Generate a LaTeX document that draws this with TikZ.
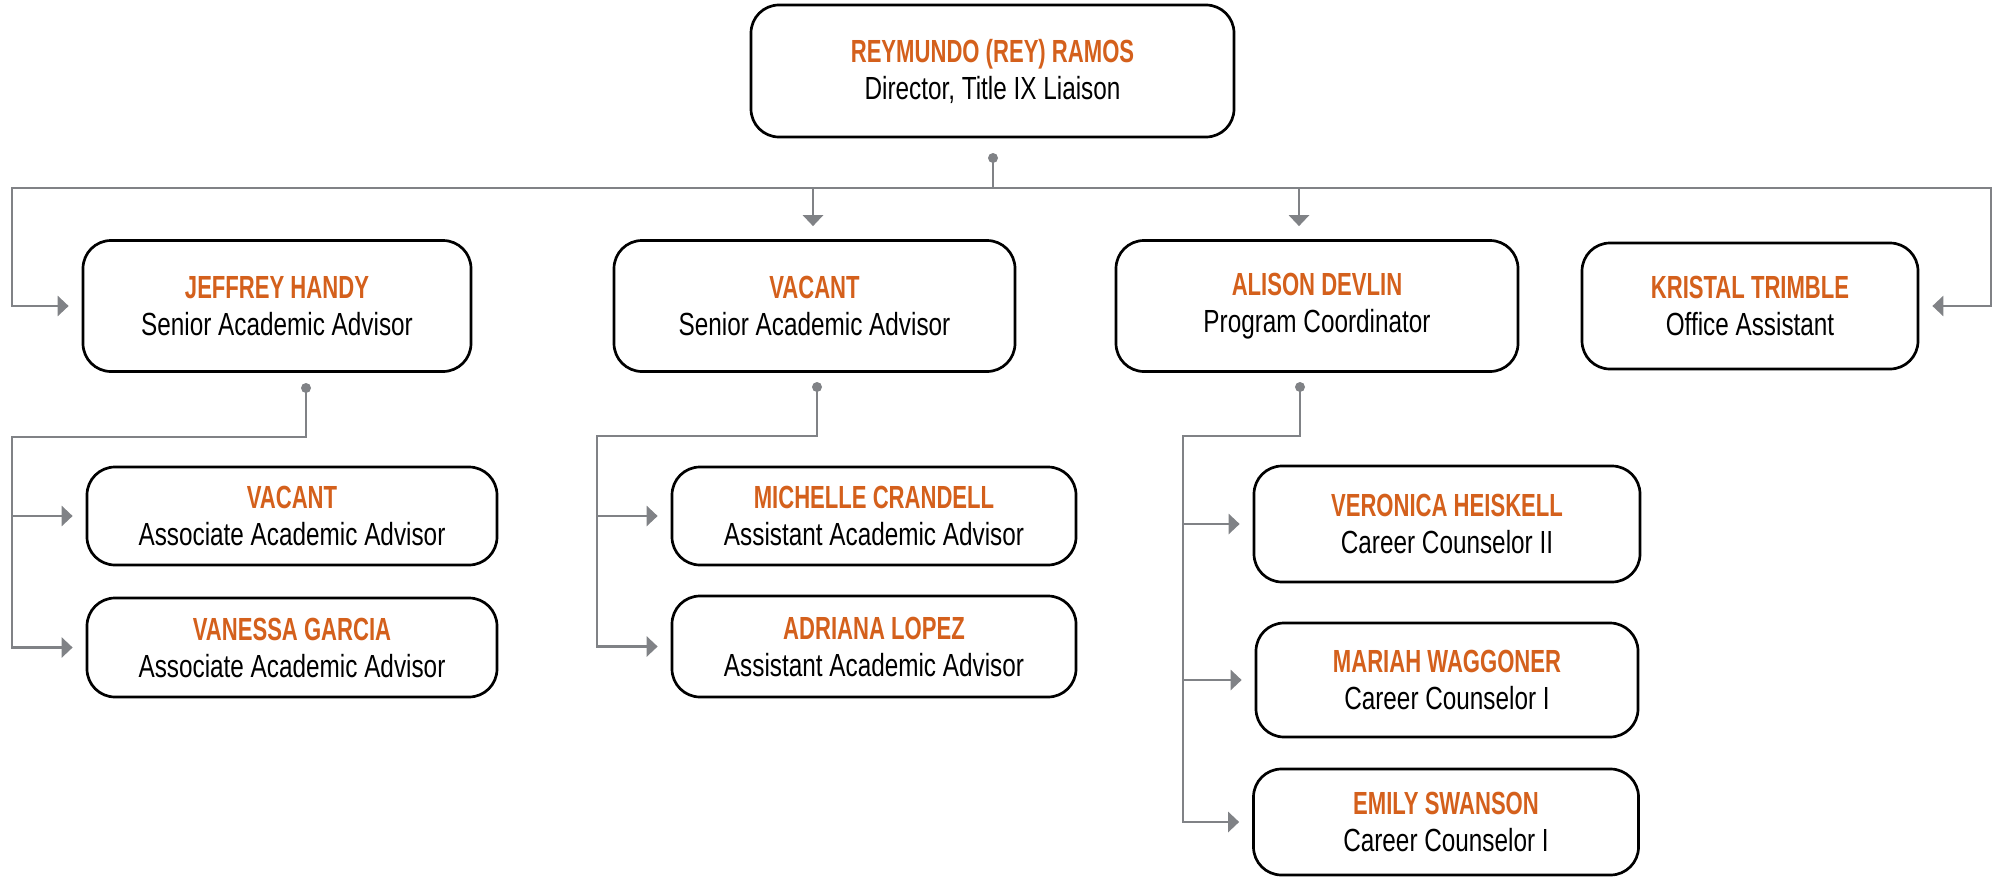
\documentclass[tikz,border=0pt]{standalone}
\usepackage{fontspec}
\setmainfont{Liberation Sans}[FakeStretch=0.76, BoldFeatures={FakeStretch=0.69}]
\usetikzlibrary{arrows.meta}
\definecolor{orng}{RGB}{212,96,28}
\definecolor{lgray}{RGB}{128,130,134}
\newcommand\orgname[1]{{\bfseries\color{orng}#1}}
\begin{document}
\begin{tikzpicture}[x=1bp,y=-1bp,
  box/.style={draw=black, line width=2.7bp, rounded corners=28bp, align=center,
    inner sep=0pt, fill=white, font=\fontsize{32bp}{37bp}\selectfont},
  conn/.style={draw=lgray, line width=2.7bp},
  arr/.style={conn, -{Triangle[length=11bp,width=20bp]}, shorten >=13bp},
  dotc/.style={circle, fill=lgray, inner sep=0pt, minimum size=10bp}]
\useasboundingbox (0,0) rectangle (1997,878);
% boxes
\node[box, minimum width=483bp, minimum height=132bp] (top) at (992.5,71)
  {\orgname{REYMUNDO (REY) RAMOS}\\Director, Title IX Liaison};
\node[box, minimum width=388bp, minimum height=131bp] (jeff) at (277,306)
  {\orgname{JEFFREY HANDY}\\Senior Academic Advisor};
\node[box, minimum width=401bp, minimum height=131bp] (vsen) at (814.5,306)
  {\orgname{VACANT}\\Senior Academic Advisor};
\node[box, minimum width=402bp, minimum height=131bp] (alison) at (1317,306)
  {\orgname{ALISON DEVLIN}\\Program Coordinator};
\node[box, minimum width=336bp, minimum height=126bp] (kristal) at (1750,306)
  {\orgname{KRISTAL TRIMBLE}\\Office Assistant};
\node[box, minimum width=410bp, minimum height=98bp] (vassoc) at (292,516)
  {\orgname{VACANT}\\Associate Academic Advisor};
\node[box, minimum width=410bp, minimum height=99bp] (vanessa) at (292,647.5)
  {\orgname{VANESSA GARCIA}\\Associate Academic Advisor};
\node[box, minimum width=404bp, minimum height=98bp] (michelle) at (874,516)
  {\orgname{MICHELLE CRANDELL}\\Assistant Academic Advisor};
\node[box, minimum width=404bp, minimum height=101bp] (adriana) at (874,646.5)
  {\orgname{ADRIANA LOPEZ}\\Assistant Academic Advisor};
\node[box, minimum width=386bp, minimum height=116bp] (veronica) at (1447,524)
  {\orgname{VERONICA HEISKELL}\\Career Counselor II};
\node[box, minimum width=382bp, minimum height=114bp] (mariah) at (1447,680)
  {\orgname{MARIAH WAGGONER}\\Career Counselor I};
\node[box, minimum width=385bp, minimum height=106bp] (emily) at (1446,822)
  {\orgname{EMILY SWANSON}\\Career Counselor I};
% junction points
\coordinate (td) at (993,158);
\coordinate (bus) at (993,188);
\coordinate (busL) at (12,188);
\coordinate (busR) at (1991,188);
\coordinate (bv) at (813,188);
\coordinate (ba) at (1299,188);
\coordinate (jd) at (306,388);
\coordinate (jt) at (12,437);
\coordinate (vd) at (817,387);
\coordinate (vt) at (597,436);
\coordinate (ad) at (1300,387);
\coordinate (at) at (1183,436);
% top level connectors
\draw[conn] (td) -- (bus);
\draw[arr] (busR) -- (busL) |- (jeff.west);
\draw[arr] (busL) -- (busR) |- (kristal.east);
\draw[arr] (bv) -- (bv |- vsen.north);
\draw[arr] (ba) -- (ba |- alison.north);
% Jeffrey's reports
\draw[arr] (jd) |- (jt) |- (vanessa.west);
\draw[arr] (jt) |- (vassoc.west);
% Vacant senior's reports
\draw[arr] (vd) |- (vt) |- (adriana.west);
\draw[arr] (vt) |- (michelle.west);
% Alison's reports
\draw[arr] (ad) |- (at) |- (emily.west);
\draw[arr] (at) |- (veronica.west);
\draw[arr] (at) |- (mariah.west);
% dots
\node[dotc] (tdot) at (td) {};
\node[dotc] (jdot) at (jd) {};
\node[dotc] (vdot) at (vd) {};
\node[dotc] (adot) at (ad) {};
\end{tikzpicture}
\end{document}
